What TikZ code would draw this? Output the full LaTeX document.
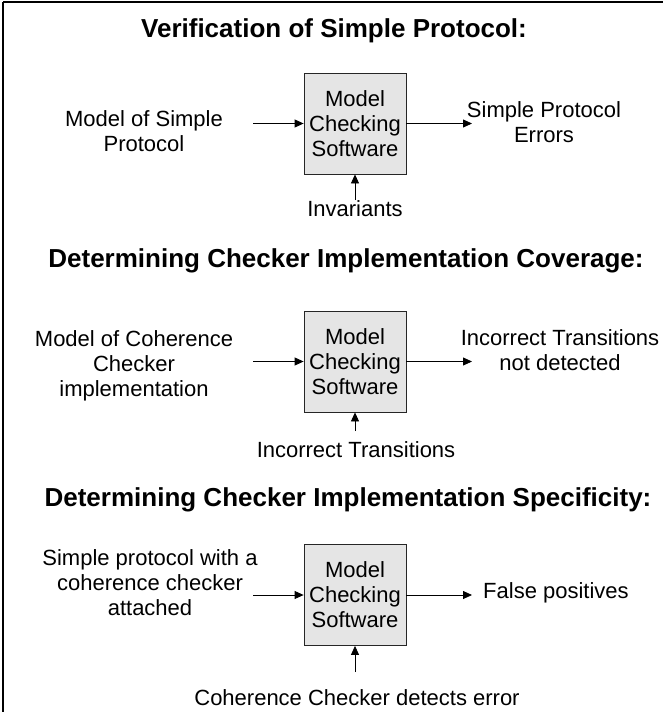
\documentclass[tikz,border=0pt]{standalone}
\usepackage{fontspec}
\setmainfont{Liberation Sans}
\usetikzlibrary{arrows.meta}
\newcommand\bodyfont{\fontsize{22}{25}\selectfont}
\newcommand\headfont{\fontsize{26}{30}\selectfont\bfseries}
\tikzset{
  checkbox/.style={draw=black!85, fill=black!10, line width=0.8pt,
    minimum width=102pt, minimum height=101pt, inner sep=0pt,
    align=center, font=\bodyfont},
  lbl/.style={align=center, inner sep=0pt, font=\bodyfont},
  heading/.style={inner sep=0pt, anchor=base, font=\headfont},
  flow/.style={line width=0.8pt, -{Triangle[length=9pt,width=8pt]}},
  frameline/.style={line width=1.5pt},
}
\begin{document}
\begin{tikzpicture}[x=1pt,y=-1pt]
\useasboundingbox (0,0) rectangle (663,712);
\draw[frameline] (3,2) -- (663,2);
\draw[frameline] (3,2) -- (3,712);

% --- Verification of simple protocol
\node[heading] (t1) at (334,37) {Verification of Simple Protocol:};
\node[checkbox] (b1) at (355,123.5) {Model\\Checking\\Software};
\node[lbl] (in1) at (144,131.5) {Model of Simple\\Protocol};
\node[lbl] (out1) at (544,122.5) {Simple Protocol\\Errors};
\node[lbl, anchor=base] (c1) at (355,216) {Invariants};
\coordinate (a1) at (253,123.5);
\coordinate (e1) at (472,123.5);
\coordinate (u1) at (355,200);
\draw[flow] (a1) -- (b1.west);
\draw[flow] (b1.east) -- (e1);
\draw[flow] (u1) -- (b1.south);

% --- Checker coverage
\node[heading] (t2) at (346,267) {Determining Checker Implementation Coverage:};
\node[checkbox] (b2) at (355,361.5) {Model\\Checking\\Software};
\node[lbl] (in2) at (134,366) {Model of Coherence\\Checker\\implementation};
\node[lbl] (out2) at (560,350) {Incorrect Transitions\\not detected};
\node[lbl, anchor=base] (c2) at (356,457) {Incorrect Transitions};
\coordinate (a2) at (253,361.5);
\coordinate (e2) at (472,361.5);
\coordinate (u2) at (355,431);
\draw[flow] (a2) -- (b2.west);
\draw[flow] (b2.east) -- (e2);
\draw[flow] (u2) -- (b2.south);

% --- Checker specificity
\node[heading] (t3) at (348,506) {Determining Checker Implementation Specificity:};
\node[checkbox] (b3) at (355,595) {Model\\Checking\\Software};
\node[lbl] (in3) at (150,583) {Simple protocol with a\\coherence checker\\attached};
\node[lbl, anchor=base west] (out3) at (483,598) {False positives};
\node[lbl, anchor=base] (c3) at (357,705) {Coherence Checker detects error};
\coordinate (a3) at (253,595);
\coordinate (e3) at (472,595);
\coordinate (u3) at (355,672);
\draw[flow] (a3) -- (b3.west);
\draw[flow] (b3.east) -- (e3);
\draw[flow] (u3) -- (b3.south);
\end{tikzpicture}
\end{document}
